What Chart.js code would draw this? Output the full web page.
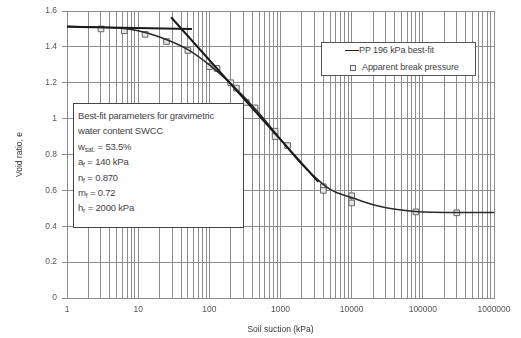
<!DOCTYPE html>
<html>
<head>
<meta charset="utf-8">
<script src="https://cdn.jsdelivr.net/npm/chart.js@4"></script>
<style>
  body { margin: 0; background: #fff; }
  #wrap { position: relative; width: 521px; height: 338px; }
  .box { position: absolute; background: #fff; font-family: "Liberation Sans", Arial, sans-serif; color: #3f3f3f; }
  #params { left: 73px; top: 103px; width: 171px; height: 125px; border: 1px solid #444; font-size: 9.5px; letter-spacing: -0.2px; line-height: 15.4px; padding: 4px 0 0 4px; box-sizing: border-box; }
  #params sub { font-size: 6.5px; line-height: 0; vertical-align: -2px; letter-spacing: 0; }
  #legend { left: 321px; top: 42px; width: 155px; height: 34px; border: 1px solid #555; font-size: 9px; letter-spacing: -0.1px; box-sizing: border-box; }
  #legend .row { position: absolute; white-space: nowrap; }
  #legend .ln { position: absolute; width: 14px; height: 0; border-top: 1.5px solid #222; }
  #legend .sq { position: absolute; width: 4px; height: 4px; border: 1px solid #666; background: #eee; }
</style>
</head>
<body>
<div id="wrap">
  <canvas id="myChart" width="521" height="338"></canvas>
  <div class="box" id="params">
    Best-fit parameters for gravimetric<br>
    water content SWCC<br>
    w<sub>sat.</sub> = 53.5%<br>
    a<sub>f</sub> = 140 kPa<br>
    n<sub>f</sub> = 0.870<br>
    m<sub>f</sub> = 0.72<br>
    h<sub>r</sub> = 2000 kPa
  </div>
  <div class="box" id="legend">
    <div class="ln" style="left:23px; top:7px;"></div>
    <div class="row" style="left:37px; top:2px;">PP 196 kPa best-fit</div>
    <div class="sq" style="left:28px; top:22px;"></div>
    <div class="row" style="left:40px; top:19px;">Apparent break pressure</div>
  </div>
</div>
<script>
// measured points (suction kPa, void ratio)
let breakSuction=[3,6.4,12.5,25,50,100,128,200,240,330,440,840,840,1260,4000,4000,10000,10000,80000,300000];
let breakVoid=[1.50,1.49,1.47,1.43,1.38,1.29,1.28,1.20,1.17,1.09,1.06,0.93,0.90,0.85,0.62,0.60,0.57,0.53,0.48,0.475];
// best-fit curve
let fitSuction=[1,2,5,10,20,50,100,200,500,1000,2000,5000,10000,20000,50000,100000,1000000];
let fitVoid=[1.515,1.512,1.505,1.49,1.455,1.385,1.30,1.195,1.03,0.885,0.745,0.605,0.56,0.52,0.49,0.48,0.476];
// straight-line construction
let flatSuction=[1,57];
let flatVoid=[1.512,1.50];
let steepSuction=[29,3400];
let steepVoid=[1.565,0.647];
let yTicks=[0,0.2,0.4,0.6,0.8,1,1.2,1.4,1.6];

function pts(xs,ys){ return xs.map((x,i)=>({x:x,y:ys[i]})); }

// log grid: 1..9 per decade
let gridVals=[];
for(let d=0; d<6; d++){ for(let k=1;k<10;k++){ gridVals.push(k*Math.pow(10,d)); } }
gridVals.push(1000000);

Chart.defaults.font.family='"Liberation Sans", Arial, sans-serif';
Chart.defaults.color='#555';

const data={
  datasets:[
    { data:pts(flatSuction,flatVoid), borderColor:'#1a1a1a', borderWidth:2, pointRadius:0, showLine:true },
    { data:pts(steepSuction,steepVoid), borderColor:'#1a1a1a', borderWidth:2, pointRadius:0, showLine:true },
    { data:pts(fitSuction,fitVoid), borderColor:'#2a2a2a', borderWidth:1.5, pointRadius:0, showLine:true, cubicInterpolationMode:'monotone' },
    { data:pts(breakSuction,breakVoid), showLine:false, pointStyle:'rect', pointRadius:4, borderWidth:1, pointBorderColor:'#666', pointBackgroundColor:'#e6e6e6' }
  ]
};

const config={
  type:'scatter',
  data:data,
  options:{
    responsive:false,
    animation:false,
    layout:{ padding:{ top:11, right:27, left:0, bottom:0 } },
    plugins:{ legend:{ display:false }, tooltip:{ enabled:false } },
    scales:{
      x:{
        type:'logarithmic', min:1, max:1000000,
        afterBuildTicks:(s)=>{ s.ticks=gridVals.map(v=>({value:v})); },
        afterFit:(s)=>{ s.height=40; },
        grid:{ color:'#8c8c8c', drawTicks:false },
        border:{ color:'#8c8c8c' },
        ticks:{
          autoSkip:false, maxRotation:0, padding:7, color:'#555', font:{ size:8.5 },
          callback:(v)=>{ let l=Math.log10(v); return Math.abs(l-Math.round(l))<1e-9 ? String(Math.round(v)) : ''; }
        },
        title:{ display:true, text:'Soil suction (kPa)', color:'#333', font:{ size:8.5 }, padding:{ top:0, bottom:3 } }
      },
      y:{
        min:0, max:1.6,
        afterBuildTicks:(s)=>{ s.ticks=yTicks.map(v=>({value:v})); },
        afterFit:(s)=>{ s.width=67; },
        grid:{ color:'#8c8c8c', tickLength:5 },
        border:{ color:'#8c8c8c' },
        ticks:{ padding:5, color:'#555', font:{ size:8.5 }, callback:(v)=>String(v) },
        title:{ display:true, text:'Void ratio, e', color:'#333', font:{ size:8.5 }, padding:{ top:15, bottom:0 } }
      }
    }
  }
};

const chart1=new Chart(document.getElementById('myChart').getContext('2d'), config);
</script>
</body>
</html>
